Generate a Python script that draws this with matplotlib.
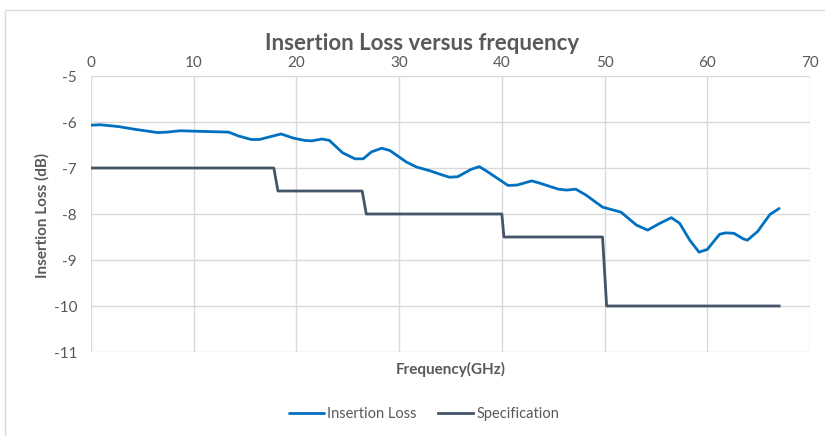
import matplotlib
matplotlib.use('Agg')
import matplotlib.pyplot as plt
from matplotlib.patches import Rectangle

# insertion loss (GHz, dB)
il_freq = [0.0, 0.9, 2.7, 4.3, 6.5, 7.4, 8.7, 10.1, 13.4, 14.3, 15.6, 16.4, 18.5, 19.7,
           20.8, 21.5, 22.5, 23.2, 24.5, 25.7, 26.5, 27.3, 28.3, 29.1, 30.7, 31.7, 33.0,
           33.9, 34.9, 35.7, 37.0, 37.8, 38.6, 40.6, 41.5, 42.9, 43.7, 45.5, 46.3, 47.2,
           48.2, 49.8, 51.6, 53.1, 54.2, 55.4, 56.5, 57.3, 58.3, 59.2, 60.0, 61.2, 61.8,
           62.6, 63.5, 63.9, 64.9, 66.1, 67.0]
il_db = [-6.07, -6.06, -6.10, -6.16, -6.23, -6.22, -6.19, -6.20, -6.22, -6.30, -6.38, -6.38,
         -6.26, -6.35, -6.40, -6.41, -6.37, -6.40, -6.67, -6.80, -6.80, -6.65, -6.57, -6.62,
         -6.87, -6.98, -7.06, -7.13, -7.20, -7.19, -7.03, -6.97, -7.08, -7.38, -7.37, -7.28,
         -7.33, -7.46, -7.48, -7.46, -7.59, -7.85, -7.96, -8.24, -8.35, -8.20, -8.08, -8.20,
         -8.57, -8.83, -8.77, -8.44, -8.41, -8.42, -8.54, -8.57, -8.38, -8.01, -7.88]

# specification mask
spec_freq = [0.0, 17.8, 18.2, 26.4, 26.8, 40.0, 40.2, 49.8, 50.2, 67.0]
spec_db = [-7.0, -7.0, -7.5, -7.5, -8.0, -8.0, -8.5, -8.5, -10.0, -10.0]

x_ticks = [0, 10, 20, 30, 40, 50, 60, 70]
y_ticks = [-11, -10, -9, -8, -7, -6, -5]

W, H = 825, 436
plt.rcParams['font.family'] = ['Lato', 'DejaVu Sans']
plt.rcParams['axes.unicode_minus'] = False
fig = plt.figure(figsize=(W / 100, H / 100), dpi=100)

# chart border like excel
fig.patches.append(Rectangle((5 / W, -0.01), 1.0, 1 - 10 / H + 0.01, transform=fig.transFigure,
                             fill=False, edgecolor='#D9D9D9', lw=1.0))

ax = fig.add_axes([91 / W, 1 - 352 / H, (810 - 91) / W, (352 - 76) / H])
ax.plot(il_freq, il_db, color='#0070C0', lw=2.0, label='Insertion Loss',
        solid_joinstyle='round', solid_capstyle='round')
ax.plot(spec_freq, spec_db, color='#44546A', lw=2.0, label='Specification')

ax.set_xlim(0, 70)
ax.set_ylim(-11, -5)
ax.set_xticks(x_ticks)
ax.set_yticks(y_ticks)
ax.xaxis.tick_top()
ax.tick_params(length=0, labelsize=11, labelcolor='#595959')
ax.tick_params(axis='x', pad=4)
ax.tick_params(axis='y', pad=10)
ax.grid(True, color='#D9D9D9', lw=1.0)
ax.set_axisbelow(True)
for s in ax.spines.values():
    s.set_visible(False)

fig.text(422 / W, 1 - 43 / H, 'Insertion Loss versus frequency', ha='center', va='center',
         fontsize=16, fontweight='bold', color='#595959')
fig.text(451 / W, 1 - 369 / H, 'Frequency(GHz)', ha='center', va='center',
         fontsize=11, fontweight='bold', color='#595959')
fig.text(42 / W, 1 - 215 / H, 'Insertion Loss (dB)', ha='center', va='center', rotation=90,
         fontsize=11, fontweight='bold', color='#595959')

leg = fig.legend(loc='center', bbox_to_anchor=(424 / W, 1 - 414 / H), ncol=2, frameon=False,
                 fontsize=10.5, handlelength=2.4, handletextpad=0.2, columnspacing=1.5)
for t in leg.get_texts():
    t.set_color('#595959')

fig.savefig('out.png', dpi=100)
